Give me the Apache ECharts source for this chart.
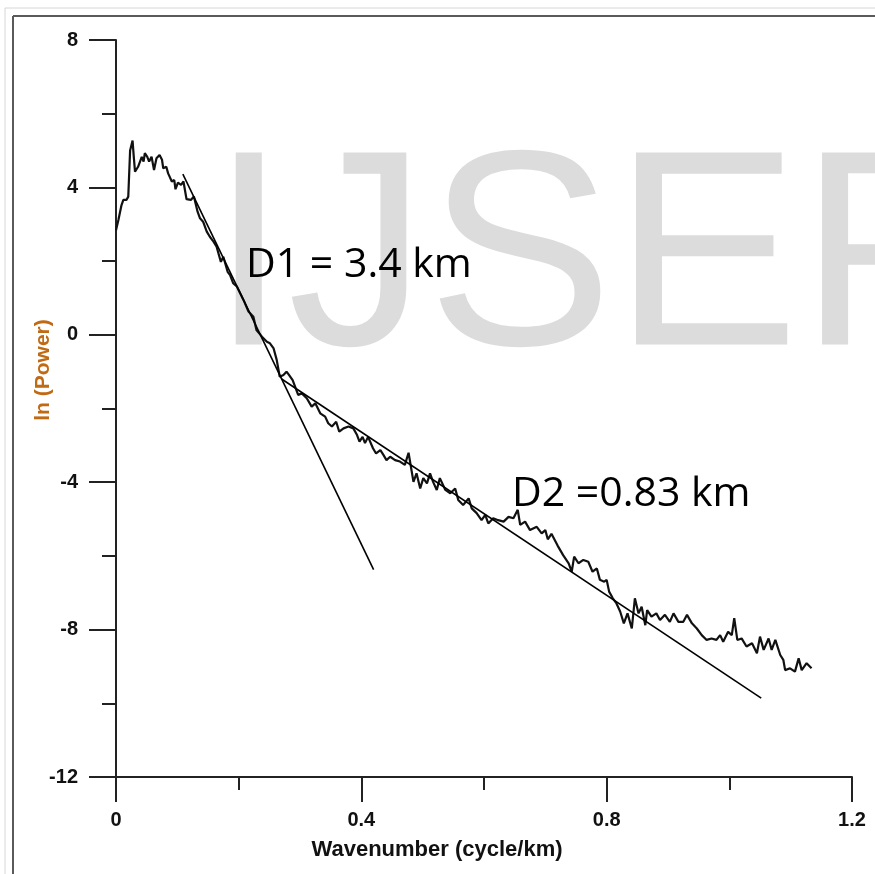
<!DOCTYPE html>
<html>
<head>
<meta charset="utf-8">
<title>ln (Power) vs Wavenumber</title>
<script src="https://cdn.jsdelivr.net/npm/echarts@6/dist/echarts.min.js"></script>
<style>
  html, body { margin: 0; padding: 0; background: #fff; }
  #chart { width: 875px; height: 874px; }
</style>
</head>
<body>
<div id="chart"></div>
<script>
// spectrum
var waveNumber = [
  0.000, 0.004, 0.009, 0.012, 0.017, 0.020, 0.023, 0.027, 0.029, 0.031,
  0.036, 0.042, 0.045, 0.047, 0.051, 0.054, 0.058, 0.062, 0.066, 0.071,
  0.075, 0.077, 0.082, 0.085, 0.091, 0.095, 0.097, 0.101, 0.106, 0.110,
  0.115, 0.122, 0.127, 0.133, 0.137, 0.142, 0.148, 0.153, 0.159, 0.164,
  0.171, 0.175, 0.182, 0.186, 0.191, 0.197, 0.208, 0.216, 0.224, 0.229,
  0.238, 0.246, 0.251, 0.257, 0.262, 0.267, 0.273, 0.278, 0.282, 0.288,
  0.297, 0.303, 0.311, 0.319, 0.325, 0.333, 0.341, 0.346, 0.352, 0.359,
  0.364, 0.371, 0.379, 0.387, 0.393, 0.397, 0.402, 0.406, 0.411, 0.419,
  0.424, 0.431, 0.436, 0.441, 0.447, 0.455, 0.463, 0.471, 0.477, 0.485,
  0.490, 0.496, 0.501, 0.507, 0.512, 0.517, 0.523, 0.528, 0.537, 0.545,
  0.553, 0.558, 0.566, 0.575, 0.580, 0.588, 0.596, 0.602, 0.607, 0.615,
  0.623, 0.632, 0.640, 0.648, 0.655, 0.659, 0.667, 0.675, 0.686, 0.694,
  0.700, 0.704, 0.710, 0.720, 0.729, 0.738, 0.743, 0.747, 0.754, 0.762,
  0.770, 0.777, 0.784, 0.789, 0.796, 0.800, 0.804, 0.810, 0.816, 0.822,
  0.828, 0.834, 0.841, 0.846, 0.852, 0.857, 0.863, 0.866, 0.873, 0.881,
  0.887, 0.895, 0.903, 0.909, 0.917, 0.925, 0.931, 0.939, 0.947, 0.955,
  0.963, 0.971, 0.979, 0.985, 0.990, 0.998, 1.004, 1.008, 1.013, 1.020,
  1.028, 1.037, 1.045, 1.050, 1.056, 1.064, 1.069, 1.075, 1.083, 1.088,
  1.091, 1.099, 1.107, 1.113, 1.118, 1.126, 1.134
];
var lnPower = [
  2.84, 3.12, 3.52, 3.66, 3.66, 3.75, 5.00, 5.27, 4.83, 4.43,
  4.56, 4.83, 4.70, 4.93, 4.83, 4.70, 4.83, 4.47, 4.79, 4.88,
  4.75, 4.52, 4.56, 4.38, 4.16, 4.20, 3.95, 4.13, 4.07, 4.16,
  3.68, 3.66, 3.75, 3.34, 3.16, 3.07, 2.80, 2.66, 2.53, 2.39,
  1.98, 2.12, 1.71, 1.62, 1.40, 1.31, 0.94, 0.63, 0.49, 0.13,
  -0.05, -0.19, -0.23, -0.37, -0.68, -1.14, -1.09, -1.00, -1.09, -1.23,
  -1.63, -1.59, -1.72, -1.95, -1.86, -2.13, -2.22, -2.40, -2.49, -2.36,
  -2.63, -2.54, -2.49, -2.54, -2.72, -2.90, -2.77, -2.94, -2.77, -3.08,
  -3.22, -3.13, -3.26, -3.40, -3.31, -3.40, -3.44, -3.53, -3.20, -3.99,
  -3.76, -4.17, -3.89, -4.03, -3.76, -3.99, -4.21, -3.89, -4.21, -4.30,
  -4.17, -4.48, -4.62, -4.44, -4.71, -4.84, -5.03, -4.89, -5.12, -4.98,
  -5.03, -5.07, -4.94, -4.98, -4.75, -5.16, -5.07, -5.30, -5.21, -5.39,
  -5.30, -5.55, -5.40, -5.72, -5.98, -6.20, -6.43, -6.02, -6.20, -6.11,
  -6.16, -6.43, -6.34, -6.65, -6.70, -6.65, -6.97, -7.15, -7.29, -7.51,
  -7.83, -7.56, -7.97, -7.15, -7.56, -7.38, -7.88, -7.47, -7.65, -7.56,
  -7.74, -7.60, -7.79, -7.56, -7.79, -7.79, -7.60, -7.83, -7.97, -8.15,
  -8.28, -8.24, -8.28, -8.15, -8.33, -8.06, -8.15, -7.69, -8.28, -8.24,
  -8.46, -8.37, -8.64, -8.19, -8.55, -8.24, -8.55, -8.28, -8.69, -8.82,
  -9.10, -9.05, -9.14, -8.78, -9.10, -8.91, -9.05
];

// fitted straight segments
var d1X = [0.109, 0.42];
var d1Y = [4.36, -6.37];
var d2X = [0.27, 1.052];
var d2Y = [-1.2, -9.86];

var d1Text = 'D1 = 3.4 km';
var d2Text = 'D2 =0.83 km';
var watermark = 'IJSER';

function pairs(xs, ys) {
  return xs.map(function (x, i) { return [x, ys[i]]; });
}

var chart = echarts.init(document.getElementById('chart'));

var tickFont = {
  fontFamily: 'Liberation Sans, Arial, sans-serif',
  fontWeight: 'bold',
  fontSize: 20,
  color: '#111'
};

var option = {
  animation: false,
  backgroundColor: '#fff',
  grid: { left: 116, top: 40, width: 736, height: 737 },
  graphic: [
    // page frame
    { type: 'line', silent: true, shape: { x1: 5, y1: 8, x2: 875, y2: 8 }, style: { stroke: '#d6d6d6', lineWidth: 1 } },
    { type: 'line', silent: true, shape: { x1: 5, y1: 8, x2: 5, y2: 874 }, style: { stroke: '#d6d6d6', lineWidth: 1 } },
    { type: 'line', silent: true, shape: { x1: 13, y1: 16, x2: 875, y2: 16 }, style: { stroke: '#5a5a5a', lineWidth: 2 } },
    { type: 'line', silent: true, shape: { x1: 13, y1: 16, x2: 13, y2: 874 }, style: { stroke: '#5a5a5a', lineWidth: 2 } },
    {
      type: 'text', silent: true, z: 0, left: 210, top: 128,
      style: {
        text: watermark, fill: '#dcdcdc',
        font: '279px "Liberation Sans", Arial, sans-serif'
      }
    },
    {
      type: 'text', silent: true, z: 10, left: 246, top: 245,
      style: { text: d1Text, fill: '#000', font: '41px "Open Sans", sans-serif' }
    },
    {
      type: 'text', silent: true, z: 10, left: 512, top: 474,
      style: { text: d2Text, fill: '#000', font: '41px "Open Sans", sans-serif' }
    }
  ],
  xAxis: {
    type: 'value',
    min: 0,
    max: 1.2,
    interval: 0.4,
    name: 'Wavenumber (cycle/km)',
    nameLocation: 'middle',
    nameGap: 62,
    nameMoveOverlap: false,
    nameTextStyle: {
      fontFamily: 'Liberation Sans, Arial, sans-serif',
      fontWeight: 'bold',
      fontSize: 22,
      color: '#111',
      padding: [0, 94, 0, 0]
    },
    axisLine: { onZero: false, lineStyle: { color: '#222', width: 2 } },
    axisTick: { length: 25, lineStyle: { color: '#222', width: 2 } },
    minorTick: { show: true, splitNumber: 2, length: 13, lineStyle: { color: '#222', width: 2 } },
    splitLine: { show: false },
    axisLabel: Object.assign({ margin: 33, formatter: function (v) { return String(+v.toFixed(1)); } }, tickFont)
  },
  yAxis: {
    type: 'value',
    min: -12,
    max: 8,
    interval: 4,
    name: 'ln (Power)',
    nameLocation: 'middle',
    nameGap: 62,
    nameMoveOverlap: false,
    nameTextStyle: {
      fontFamily: 'Liberation Sans, Arial, sans-serif',
      fontWeight: 'bold',
      fontSize: 21,
      color: '#c06a14',
      padding: [0, 0, 0, 77]
    },
    axisLine: { show: true, onZero: false, lineStyle: { color: '#222', width: 2 } },
    axisTick: { length: 27, lineStyle: { color: '#222', width: 2 } },
    minorTick: { show: true, splitNumber: 2, length: 14, lineStyle: { color: '#222', width: 2 } },
    splitLine: { show: false },
    axisLabel: Object.assign({ margin: 38 }, tickFont)
  },
  series: [
    {
      name: 'spectrum',
      type: 'line',
      data: pairs(waveNumber, lnPower),
      symbol: 'none',
      z: 5,
      lineStyle: { color: '#111', width: 2.2 }
    },
    {
      name: 'D1',
      type: 'line',
      data: pairs(d1X, d1Y),
      symbol: 'none',
      z: 6,
      lineStyle: { color: '#000', width: 1.6 }
    },
    {
      name: 'D2',
      type: 'line',
      data: pairs(d2X, d2Y),
      symbol: 'none',
      z: 6,
      lineStyle: { color: '#000', width: 1.6 }
    }
  ]
};

chart.setOption(option);
</script>
</body>
</html>
